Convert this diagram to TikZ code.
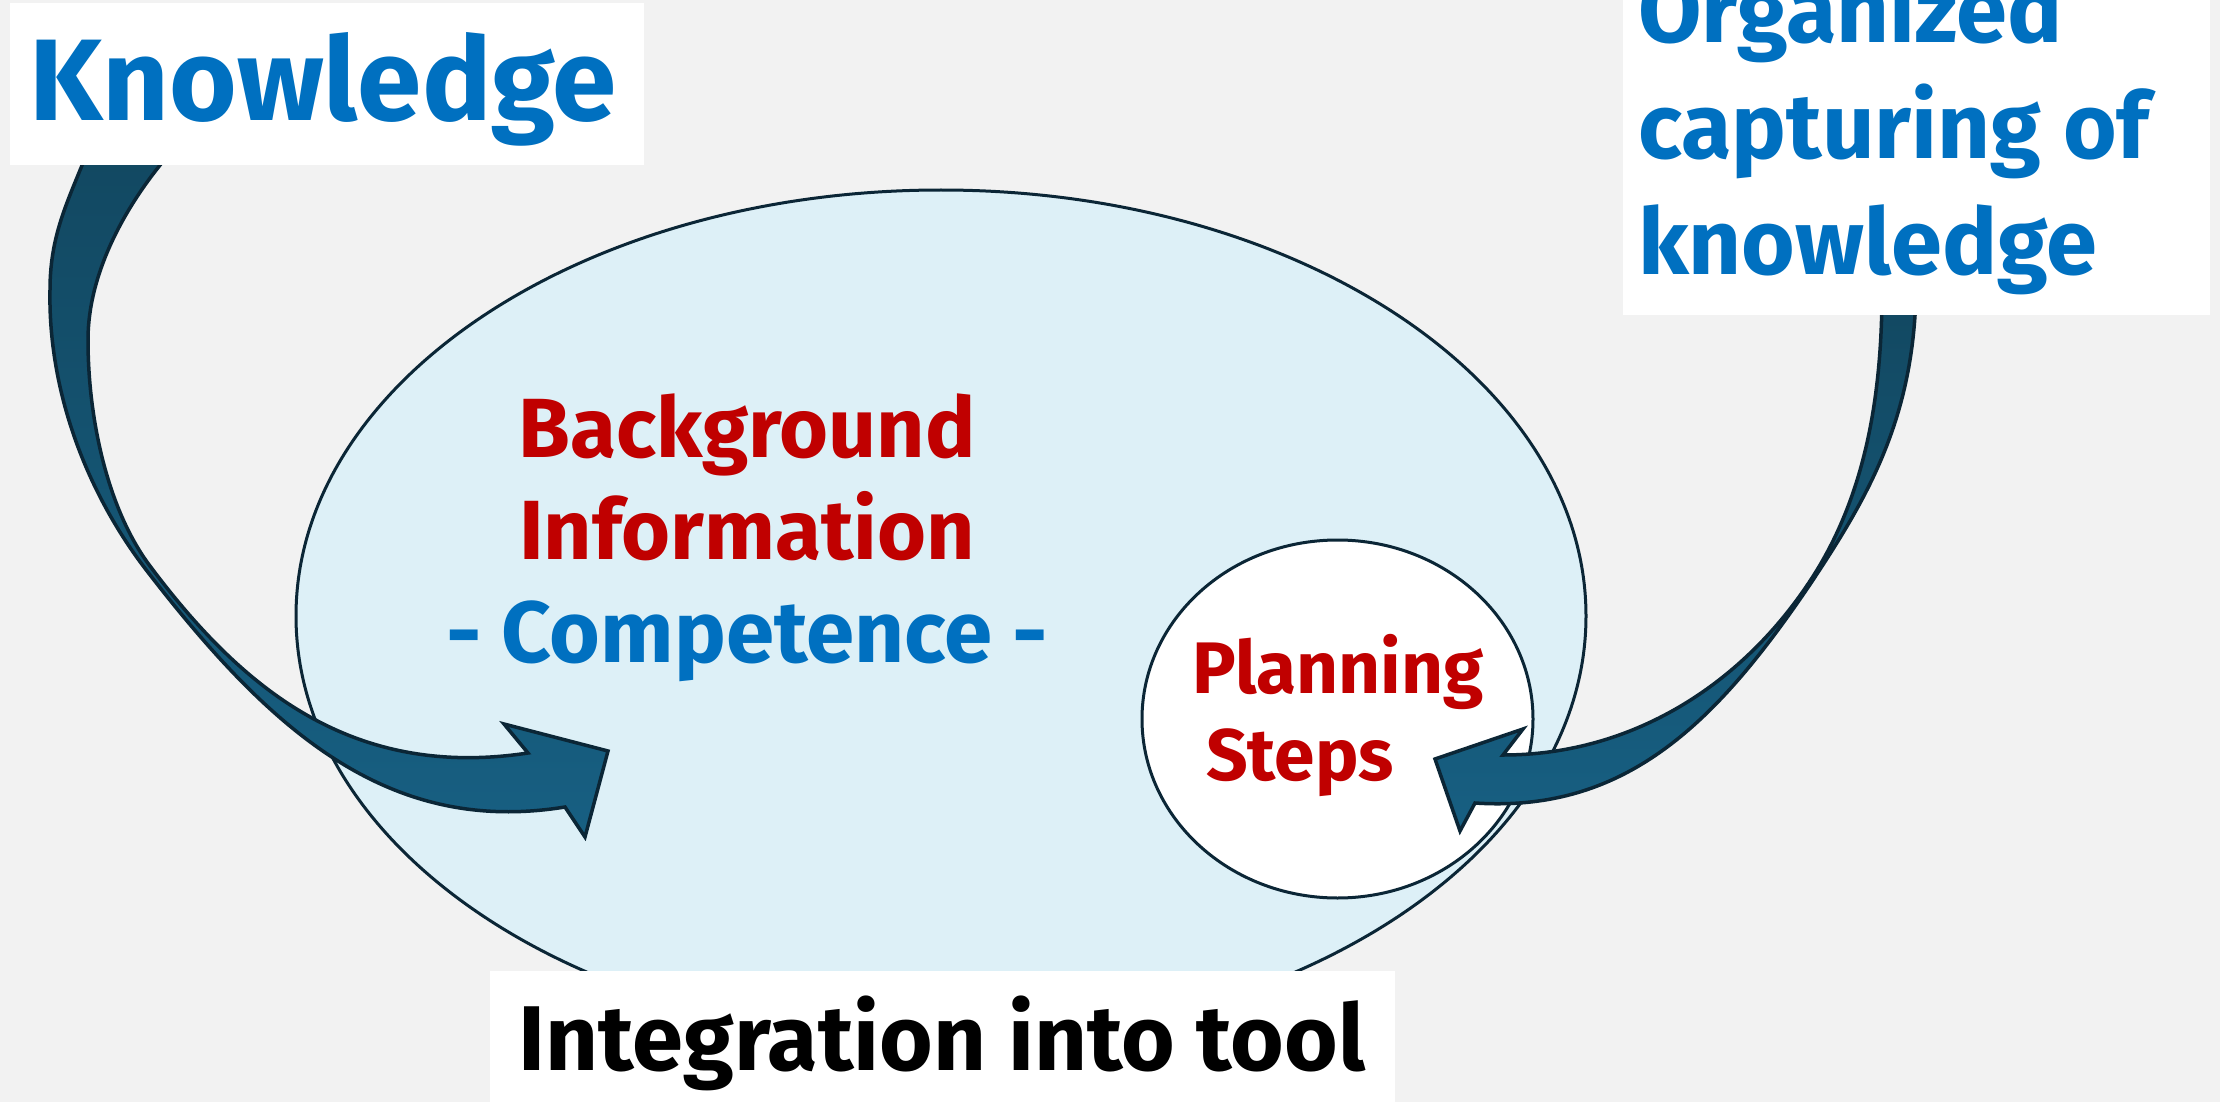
\documentclass[tikz,border=0pt]{standalone}
\usepackage{fontspec}
\setmainfont{Fira Sans}
\definecolor{bg}{HTML}{F2F2F2}
\definecolor{ellfill}{HTML}{DDF0F7}
\definecolor{outl}{HTML}{0B2636}
\definecolor{arrtop}{HTML}{124861}
\definecolor{arrbot}{HTML}{175F82}
\definecolor{tblue}{HTML}{0070C0}
\definecolor{tred}{HTML}{C00000}
\begin{document}
\begin{tikzpicture}[x=1pt,y=-1pt,
  lbl/.style={inner sep=0pt, outer sep=0pt},
  whitebox/.style={fill=white, draw=none},
  bigarrow/.style={top color=arrtop, bottom color=arrbot, draw=outl, line width=3.5pt, line join=miter},
  shapeline/.style={draw=outl, line width=3pt}]
\useasboundingbox (0,0) rectangle (2220,1102);
\fill[bg] (0,0) rectangle (2220,1102);
% big ellipse and planning circle
\draw[shapeline, fill=ellfill] (941,616) ellipse [x radius=645, y radius=426];
\draw[shapeline, fill=white] (1337.5,719) ellipse [x radius=195.5, y radius=179];
% left curved arrow (Knowledge -> Background)
\draw[bigarrow] (92,140) .. controls (71,196) and (50,230) .. (50,290)
  .. controls (48,390) and (86,492) .. (147,571)
  .. controls (269,729) and (387,836) .. (565,807)
  -- (585,837) -- (608,751) -- (504,724) -- (528,753)
  .. controls (350,780) and (240,686) .. (150,566)
  .. controls (108,510) and (88,420) .. (88,340)
  .. controls (88,260) and (141,183) .. (182,140) -- cycle;
% right curved arrow (Organized capturing -> Planning Steps)
\draw[bigarrow] (1916,290) .. controls (1914,420) and (1866,500) .. (1811,583)
  .. controls (1716,724) and (1625,813) .. (1475,803)
  -- (1460,831) -- (1435,759) -- (1523,729) -- (1503,755)
  .. controls (1633,755) and (1741,684) .. (1808,584)
  .. controls (1864,501) and (1882,400) .. (1882,290) -- cycle;
% white label boxes
\fill[whitebox] (10,3) rectangle (644,165);
\fill[whitebox] (1623,-5) rectangle (2210,315);
\fill[whitebox] (490,971) rectangle (1395,1110);
% texts
\node[lbl, anchor=base west, text=tblue, font={\fontsize{116}{116}\selectfont\bfseries}] (know) at (29,121) {Knowledge};
\node[lbl, anchor=base west, text=tblue, font={\fontsize{92}{92}\selectfont\bfseries}] (org1) at (1638,43) {Organized};
\node[lbl, anchor=base west, text=tblue, font={\fontsize{92}{92}\selectfont\bfseries}] (org2) at (1638,159) {capturing of};
\node[lbl, anchor=base west, text=tblue, font={\fontsize{92}{92}\selectfont\bfseries}] (org3) at (1638,275) {knowledge};
\node[lbl, anchor=base, text=tred, font={\fontsize{84}{84}\selectfont\bfseries}] (bg1) at (747,457) {Background};
\node[lbl, anchor=base, text=tred, font={\fontsize{84}{84}\selectfont\bfseries}] (bg2) at (747,559) {Information};
\node[lbl, anchor=base, text=tblue, font={\fontsize{87}{87}\selectfont\bfseries}] (bg3) at (747,662) {-\hspace{20pt}Competence\hspace{20pt}-};
\node[lbl, anchor=base, text=tred, font={\fontsize{73}{73}\selectfont\bfseries}] (pl1) at (1338,693) {Planning};
\node[lbl, anchor=base, text=tred, font={\fontsize{73}{73}\selectfont\bfseries}] (pl2) at (1300,780) {Steps};
\node[lbl, anchor=base, text=black, font={\fontsize{92}{92}\selectfont\bfseries}] (integ) at (942,1070) {Integration into tool};
\end{tikzpicture}
\end{document}
